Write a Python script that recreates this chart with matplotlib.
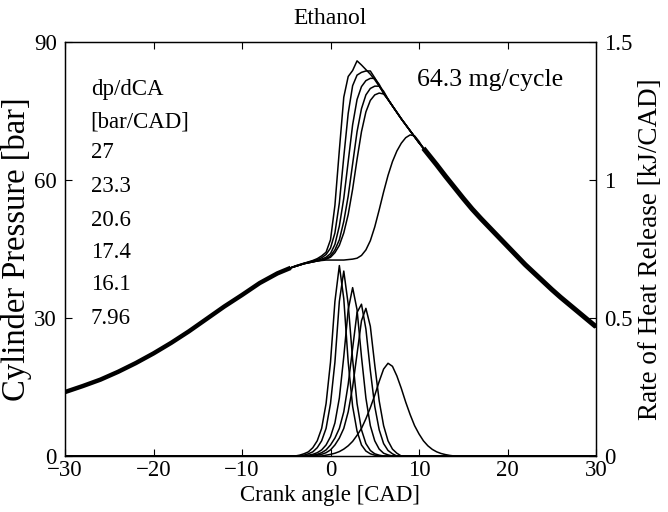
import numpy as np
import matplotlib
matplotlib.use("Agg")
import matplotlib.pyplot as plt

plt.rcParams['font.family'] = ['Liberation Serif', 'DejaVu Serif']

# ---------------- data ----------------
# common compression stroke (bar)
cad_comp = [-30, -28, -26, -24, -22, -20, -18, -16, -14, -12, -10, -8, -6, -5, -4.5]
p_comp = [13.9, 15.2, 16.6, 18.3, 20.2, 22.3, 24.6, 27.1, 29.8, 32.5, 35.0, 37.6, 39.7, 40.5, 40.9]

# combustion window, per case (bar)
cad_comb = np.arange(-4.0, 10.01, 0.5)
p_27 = [41.3, 41.6, 41.9, 42.2, 42.5, 42.9, 43.5, 44.3, 47.0, 54.5, 66.5, 78.0, 82.5, 83.8,
        85.9, 85.0, 84.0, 83.0, 81.8, 80.4, 78.9, 77.5, 76.1, 74.7, 73.3, 72.0, 70.7, 69.4, 68.1]
p_23_3 = [41.3, 41.6, 41.9, 42.1, 42.4, 42.7, 43.1, 43.8, 45.2, 48.5, 55.0, 65.0, 74.5, 80.5,
          82.8, 83.4, 83.7, 83.7, 82.2, 80.5, 78.9, 77.5, 76.1, 74.7, 73.3, 72.0, 70.7, 69.4, 68.1]
p_20_6 = [41.2, 41.5, 41.8, 42.1, 42.3, 42.5, 42.8, 43.2, 44.0, 46.0, 50.0, 56.0, 64.0, 72.0,
          77.5, 80.3, 81.6, 82.1, 82.1, 80.8, 79.0, 77.5, 76.1, 74.7, 73.3, 72.0, 70.7, 69.4, 68.1]
p_17_4 = [41.2, 41.5, 41.8, 42.0, 42.2, 42.4, 42.6, 42.9, 43.5, 44.8, 47.0, 51.0, 56.5, 63.5,
          70.5, 75.5, 78.5, 79.9, 80.4, 80.4, 79.3, 77.6, 76.1, 74.7, 73.3, 72.0, 70.7, 69.4, 68.1]
p_16_1 = [41.2, 41.5, 41.8, 42.0, 42.2, 42.4, 42.6, 42.8, 43.2, 44.2, 45.8, 48.5, 52.5, 58.0,
          64.5, 70.5, 74.8, 77.3, 78.5, 78.9, 78.7, 77.5, 76.1, 74.7, 73.3, 72.0, 70.7, 69.4, 68.1]
p_7_96 = [41.2, 41.5, 41.8, 42.0, 42.2, 42.4, 42.5, 42.6, 42.6, 42.6, 42.6, 42.6, 42.7, 42.8,
          43.0, 43.6, 44.8, 46.8, 49.8, 53.5, 57.4, 61.0, 64.0, 66.3, 68.0, 69.2, 69.8, 69.6, 68.4]

# common expansion stroke (bar)
cad_exp = [10.5, 11, 12, 13, 14, 15, 16, 17, 18, 19, 20, 21, 22, 23, 24, 25, 26, 27, 28, 29, 30]
p_exp = [66.9, 65.7, 63.3, 60.8, 58.4, 56.0, 53.7, 51.6, 49.6, 47.6, 45.6, 43.6, 41.6, 39.8,
         38.0, 36.2, 34.5, 32.9, 31.3, 29.7, 28.1]

# rate of heat release (kJ/CAD)
cad_hrr = np.arange(-4.0, 14.01, 0.5)
hrr_27 = [0, 0.003, 0.008, 0.015, 0.03, 0.055, 0.10, 0.19, 0.34, 0.56, 0.69, 0.57, 0.34, 0.18,
          0.09, 0.04, 0.018, 0.008, 0.003]
hrr_23_3 = [0, 0, 0.003, 0.008, 0.015, 0.03, 0.055, 0.10, 0.19, 0.34, 0.56, 0.67, 0.55, 0.35,
            0.19, 0.095, 0.045, 0.02, 0.008, 0.003]
hrr_20_6 = [0, 0, 0, 0.003, 0.006, 0.012, 0.022, 0.04, 0.07, 0.12, 0.21, 0.36, 0.53, 0.61,
            0.53, 0.36, 0.21, 0.11, 0.055, 0.025, 0.01, 0.004]
hrr_17_4 = [0, 0, 0, 0, 0.003, 0.006, 0.012, 0.022, 0.04, 0.065, 0.10, 0.16, 0.26, 0.39,
            0.52, 0.55, 0.46, 0.31, 0.18, 0.095, 0.045, 0.02, 0.008]
hrr_16_1 = [0, 0, 0, 0, 0, 0.003, 0.006, 0.012, 0.022, 0.04, 0.065, 0.10, 0.16, 0.25,
            0.37, 0.49, 0.535, 0.47, 0.33, 0.20, 0.11, 0.055, 0.025, 0.01]
hrr_7_96 = [0, 0, 0, 0, 0, 0, 0, 0.003, 0.006, 0.01, 0.016, 0.025, 0.037, 0.053, 0.075, 0.10,
            0.135, 0.175, 0.22, 0.27, 0.315, 0.336, 0.325, 0.29, 0.245, 0.195, 0.15, 0.11,
            0.08, 0.055, 0.037, 0.024, 0.015, 0.009, 0.005, 0.002, 0]

labels = ['27', '23.3', '20.6', '17.4', '16.1', '7.96']
pressure_cases = [p_27, p_23_3, p_20_6, p_17_4, p_16_1, p_7_96]
hrr_cases = [hrr_27, hrr_23_3, hrr_20_6, hrr_17_4, hrr_16_1, hrr_7_96]

# ---------------- figure ----------------
fig = plt.figure(figsize=(6.68, 5.12), dpi=100)
ax = fig.add_axes([65 / 668, 56 / 512, 531 / 668, 414 / 512])
ax2 = ax.twinx()

lw = 1.1
for pc in pressure_cases:
    x = np.concatenate([cad_comp, cad_comb, cad_exp])
    y = np.concatenate([p_comp, pc, p_exp])
    ax.plot(x, y, color='black', lw=lw)
# overlapping cycles form a band on the common strokes
ax.plot(cad_comp, p_comp, color='black', lw=3.2, solid_capstyle='butt')
ax.plot(cad_exp, p_exp, color='black', lw=3.6, solid_capstyle='butt')

for hc in hrr_cases:
    h = np.zeros(len(cad_hrr))
    h[:len(hc)] = hc
    x = np.concatenate([[-30], cad_hrr, [30]])
    y = np.concatenate([[0], h, [0]])
    ax2.plot(x, y, color='black', lw=lw)

ax.set_xlim(-30, 30)
ax.set_ylim(0, 90)
ax2.set_ylim(0, 1.5)
ax.set_xticks([-30, -20, -10, 0, 10, 20, 30])
ax.set_yticks([0, 30, 60, 90])
ax2.set_yticks([0, 0.5, 1, 1.5])
ax2.set_yticklabels(['0', '0.5', '1', '1.5'])

fs = 16.5
ax.tick_params(axis='both', direction='in', length=5, width=0.8, labelsize=fs,
               top=True, right=False, pad=3)
ax.tick_params(axis='y', pad=6)
ax2.tick_params(axis='y', direction='in', length=5, width=0.8, labelsize=fs, pad=6)

for a in (ax, ax2):
    for s in a.spines.values():
        s.set_linewidth(0.9)

ax.set_xlabel('Crank angle [CAD]', fontsize=16.5, labelpad=3)
ax.set_ylabel('Cylinder Pressure [bar]', fontsize=23.5, labelpad=1)
ax2.set_ylabel('Rate of Heat Release [kJ/CAD]', fontsize=19.5, labelpad=4)
ax.set_title('Ethanol', fontsize=17, pad=13)

tfs = 16.5
tx = -27.1
tr = ax.get_xaxis_transform()
ax.text(tx, (456 - 90) / 414, 'dp/dCA', transform=tr, fontsize=tfs, va='center', ha='left')
ax.text(tx, (456 - 122) / 414, '[bar/CAD]', transform=tr, fontsize=tfs, va='center', ha='left')
ys = [153, 186.5, 220, 252, 285, 318.5]
for lab, yy in zip(labels, ys):
    ax.text(tx, (456 - yy) / 414, lab, transform=tr, fontsize=tfs, va='center', ha='left')
ax.text(9.8, (456 - 80) / 414, '64.3 mg/cycle', transform=tr, fontsize=18.5, va='center', ha='left')

fig.savefig('out.png', dpi=100)
